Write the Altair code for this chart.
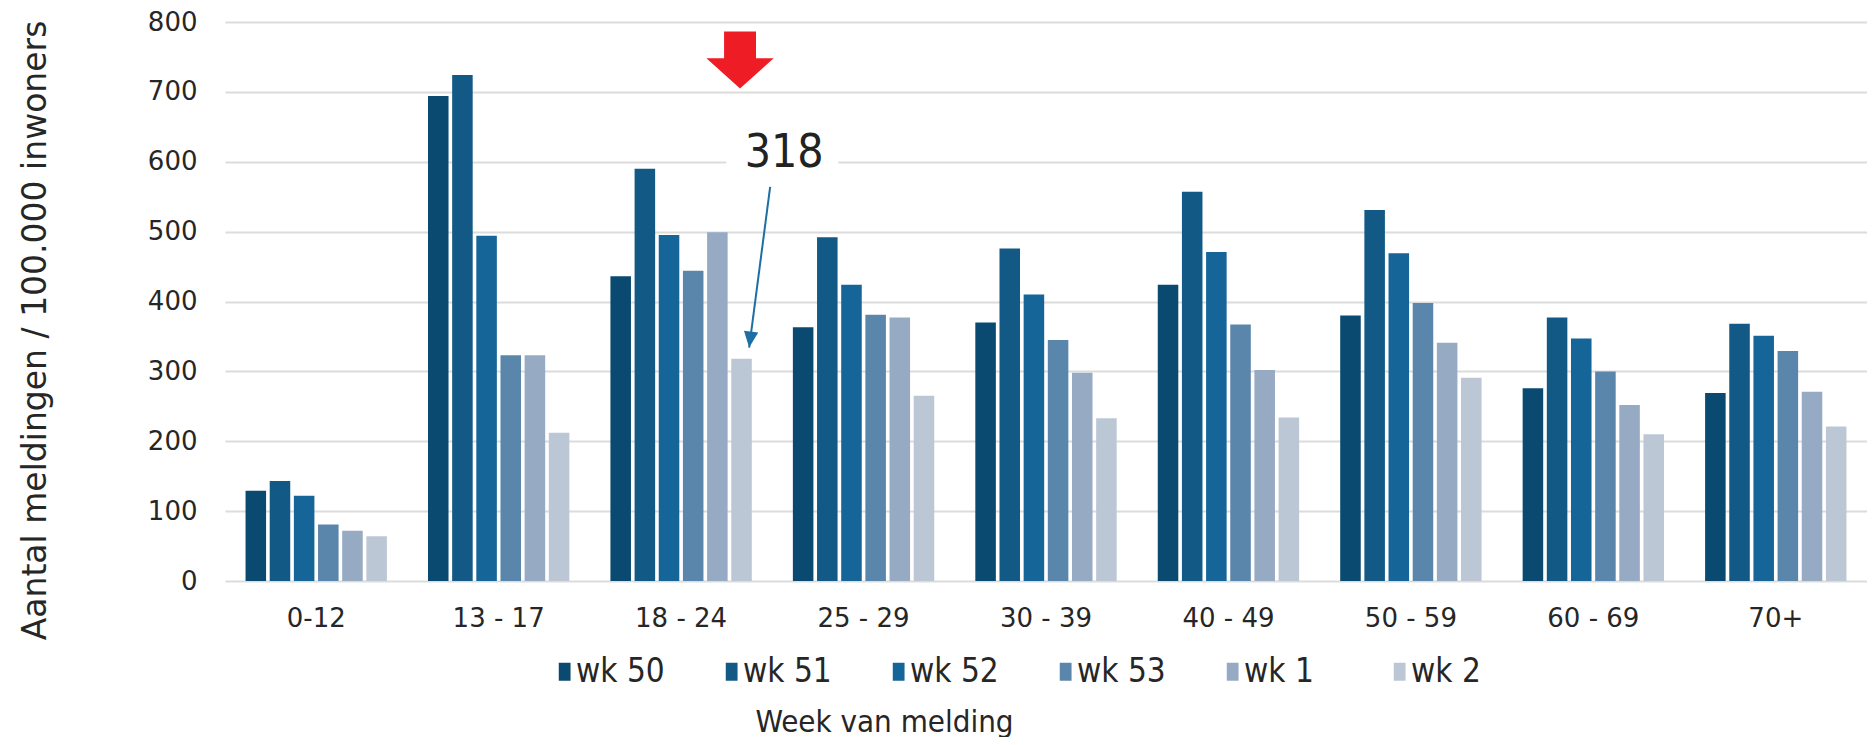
import altair as alt
import pandas as pd

# ---- data ----
age_groups = ["0-12", "13 - 17", "18 - 24", "25 - 29", "30 - 39",
              "40 - 49", "50 - 59", "60 - 69", "70+"]
weeks = ["wk 50", "wk 51", "wk 52", "wk 53", "wk 1", "wk 2"]
wk50 = [129, 694, 436, 363, 370, 424, 380, 276, 269]
wk51 = [143, 724, 590, 492, 476, 557, 531, 377, 368]
wk52 = [122, 494, 495, 424, 410, 471, 469, 347, 351]
wk53 = [81, 323, 444, 381, 345, 367, 398, 300, 329]
wk1 = [72, 323, 499, 377, 298, 302, 341, 252, 271]
wk2 = [64, 212, 318, 265, 233, 234, 291, 210, 221]
y_ticks = [0, 100, 200, 300, 400, 500, 600, 700, 800]
colors = ["#0a4a70", "#125a85", "#156598", "#5b86ab", "#97aac3", "#bcc7d6"]

y_title = "Aantal meldingen / 100.000 inwoners"
x_title = "Week van melding"

# callout: highlighted group / week
callout_group = "18 - 24"
callout_week = "wk 2"
callout_value = wk2[age_groups.index(callout_group)]

series = [wk50, wk51, wk52, wk53, wk1, wk2]
rows = []
for w, vals in zip(weeks, series):
    for g, v in zip(age_groups, vals):
        rows.append({"leeftijd": g, "week": w, "waarde": v})
df = pd.DataFrame(rows)

W, H = 1642, 559
gi = age_groups.index(callout_group)

COND = "DejaVu Sans Condensed, Liberation Sans Narrow, sans-serif"
REG = "DejaVu Sans, Verdana, sans-serif"

y_axis = alt.Axis(values=y_ticks, title=y_title, ticks=False, domain=False,
                  grid=True, gridColor="#dcdcdc", gridWidth=2,
                  labelFont=REG, labelFontSize=26, labelColor="#262626",
                  labelPadding=28,
                  titleFont=REG, titleFontSize=33, titleFontWeight="normal",
                  titleColor="#262626", titleX=-190, titleY=308,
                  titleAngle=-90, titleAlign="center", titleBaseline="middle")
y_scale = alt.Scale(domain=[0, 800], nice=False)

bars = alt.Chart(df).mark_bar().encode(
    x=alt.X("leeftijd:N", sort=age_groups,
            scale=alt.Scale(paddingInner=0, paddingOuter=0),
            axis=alt.Axis(title=x_title, labelAngle=0, ticks=False, domain=False,
                          labelFont=REG, labelFontSize=26, labelColor="#262626",
                          labelPadding=24,
                          titleFont=COND, titleFontSize=31, titleFontWeight="normal",
                          titleColor="#262626", titleX=659, titleY=150,
                          titleAlign="center", titleBaseline="alphabetic")),
    xOffset=alt.XOffset("week:N", sort=weeks,
                        scale=alt.Scale(paddingInner=0.15, paddingOuter=0.85)),
    y=alt.Y("waarde:Q", scale=y_scale, axis=y_axis),
    color=alt.Color("week:N", sort=weeks,
                    scale=alt.Scale(domain=weeks, range=colors),
                    legend=alt.Legend(title=None, orient="none", legendX=316, legendY=633,
                                      direction="horizontal", columns=6, gridAlign="all",
                                      columnPadding=43,
                                      symbolType="M 0.14 -1 L 1.45 -1 L 1.45 1 L 0.14 1 Z",
                                      symbolSize=324, symbolStrokeWidth=0,
                                      labelOffset=2,
                                      labelFont=COND, labelFontSize=33,
                                      labelColor="#262626", padding=0)),
)

# annotation geometry (in group-index units on an overlay scale)
ann = pd.DataFrame([{
    "box_x": gi + 0.747, "box_x2": gi + 1.361, "box_y": 585, "box_y2": 645,
    "txt_x": gi + 1.065, "txt_y": 592, "label": str(callout_value),
    "ln_x": gi + 0.988, "ln_y": 564, "ln_x2": gi + 0.873, "ln_y2": 334,
    "red_x": gi + 0.823, "red_y": 745.5,
}])

xs = alt.Scale(domain=[0, len(age_groups)], nice=False, zero=False)

box = alt.Chart(ann).mark_rect(color="white").encode(
    x=alt.X("box_x:Q", scale=xs, axis=None), x2="box_x2:Q",
    y=alt.Y("box_y:Q", scale=y_scale, axis=y_axis), y2="box_y2:Q")

txt = alt.Chart(ann).mark_text(font=COND, fontSize=46, color="#222222",
                               baseline="alphabetic", align="center").encode(
    x=alt.X("txt_x:Q", scale=xs, axis=None),
    y=alt.Y("txt_y:Q", scale=y_scale, axis=y_axis), text="label:N")

line = alt.Chart(ann).mark_rule(color="#1d6ea3", strokeWidth=2).encode(
    x=alt.X("ln_x:Q", scale=xs, axis=None), x2="ln_x2:Q",
    y=alt.Y("ln_y:Q", scale=y_scale, axis=y_axis), y2="ln_y2:Q")

head = alt.Chart(ann).mark_point(shape="M 0 0 L -0.45 -1 L 0.45 -1 Z", filled=True,
                                 size=1024, color="#1d6ea3", opacity=1,
                                 strokeWidth=0, angle=7).encode(
    x=alt.X("ln_x2:Q", scale=xs, axis=None),
    y=alt.Y("ln_y2:Q", scale=y_scale, axis=y_axis))

red = alt.Chart(ann).mark_point(
    shape="M -0.56 -1 L 0.56 -1 L 0.56 -0.06 L 1.18 -0.06 L 0 1 L -1.18 -0.06 L -0.56 -0.06 Z",
    filled=True, size=3249, color="#ee1c25", opacity=1, strokeWidth=0).encode(
    x=alt.X("red_x:Q", scale=xs, axis=None),
    y=alt.Y("red_y:Q", scale=y_scale, axis=y_axis))

chart = alt.layer(bars, box, txt, line, head, red).resolve_scale(
    x="independent"
).properties(
    width=W, height=H,
    autosize=alt.AutoSizeParams(type="none"),
    padding={"left": 217, "top": 14, "right": 0, "bottom": 156},
    background="white",
).configure_view(stroke=None)

chart.save("out.html", embed_options={"renderer": "svg", "actions": False})
